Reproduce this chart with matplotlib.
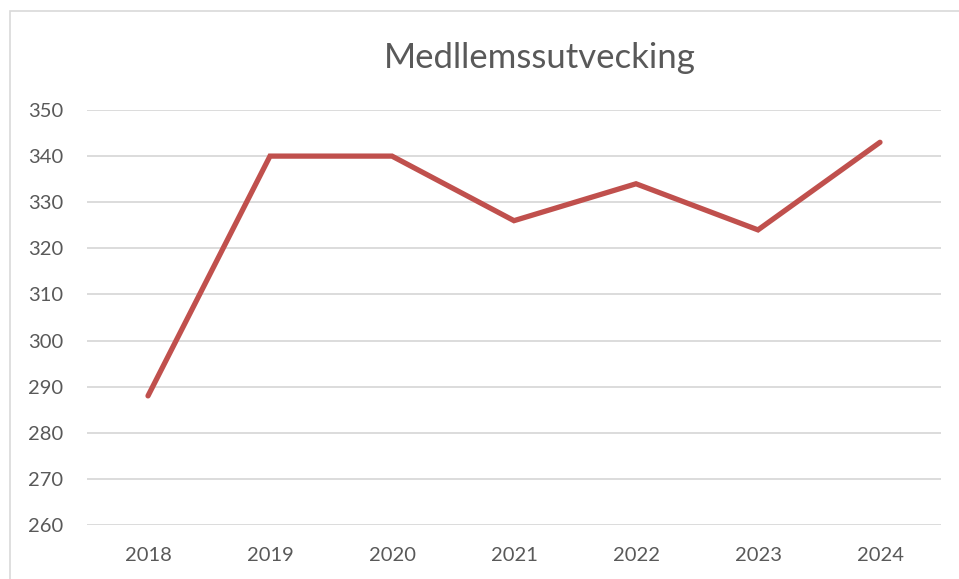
import matplotlib.pyplot as plt
from matplotlib.patches import Rectangle

years = ["2018", "2019", "2020", "2021", "2022", "2023", "2024"]
members = [288, 340, 340, 326, 334, 324, 343]
y_ticks = [260, 270, 280, 290, 300, 310, 320, 330, 340, 350]

plt.rcParams['font.family'] = ['Lato', 'DejaVu Sans']
text_col = '#595959'

W, H = 959, 579
fig = plt.figure(figsize=(W / 100, H / 100), dpi=100)

# chart area border (partly cropped in the original)
fig.patches.append(Rectangle((10 / W, -0.1), 1.2, (H - 11) / H + 0.1,
                             transform=fig.transFigure, fill=False,
                             edgecolor='#d9d9d9', linewidth=1.2))

ax = fig.add_axes([87 / W, (H - 525) / H, (941 - 87) / W, (525 - 110) / H])
x = list(range(len(years)))
ax.plot(x, members, color='#C0504D', linewidth=3.8, solid_capstyle='round',
        solid_joinstyle='miter', zorder=3)

ax.set_xlim(-0.5, len(years) - 0.5)
ax.set_ylim(260, 350)
ax.set_yticks(y_ticks)
ax.set_xticks(x)
ax.set_xticklabels(years)
ax.grid(axis='y', color='#d9d9d9', linewidth=1.3)
ax.set_axisbelow(True)
for s in ax.spines.values():
    s.set_visible(False)
ax.tick_params(length=0, labelsize=14.5, labelcolor=text_col)
ax.tick_params(axis='y', pad=17)
ax.tick_params(axis='x', pad=16)

fig.text(540 / W, 1 - 58 / H, "Medllemssutvecking", ha='center', va='center',
         fontsize=25, color=text_col)

fig.savefig("out.png", dpi=100)
